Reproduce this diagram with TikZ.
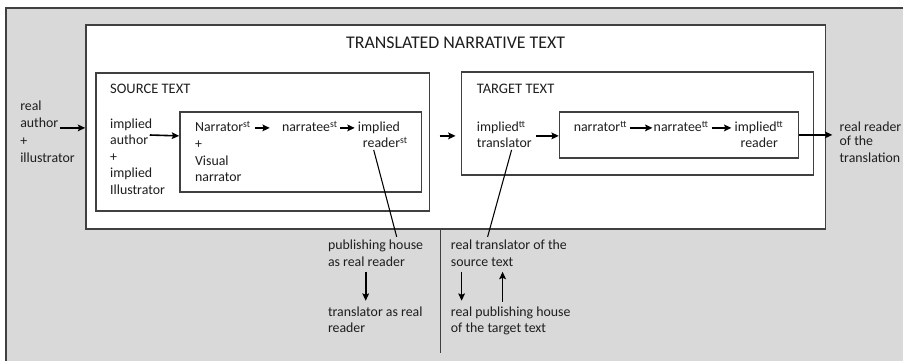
\documentclass[tikz,border=0pt]{standalone}
\usepackage{fontspec}
\setmainfont{Carlito}
\usetikzlibrary{arrows.meta,fit}
\definecolor{panelgray}{HTML}{D9D9D9}
\definecolor{edgegray}{HTML}{404040}
\definecolor{ink}{HTML}{1E1E1E}
\begin{document}
\begin{tikzpicture}[x=0.75pt,y=-0.75pt,
  box/.style={draw=edgegray,line width=1.1pt,inner sep=0pt,fill=white},
  txt/.style={inner sep=0pt,anchor=base west,text=ink,font=\fontsize{10.4pt}{12pt}\selectfont},
  head/.style={txt,font=\fontsize{10.9pt}{13pt}\selectfont},
  title/.style={inner sep=0pt,anchor=base,text=ink,font=\fontsize{13.4pt}{16pt}\selectfont},
  arr/.style={draw=black,line width=1.2pt,-{Stealth[length=5.5pt,width=5pt,inset=1pt]}},
  link/.style={draw=black,line width=0.8pt}]
% canvas and grey panel
\fill[white] (0,0) rectangle (904,361);
\fill[panelgray] (6,8) rectangle (904,361);
\draw[edgegray,line width=1.1pt] (904,8) -- (6,8) -- (6,361);

% boxes
\node[box,fit={(86,25)(826,229)}] (main) {};
\node[box,fit={(96,73)(430,211)}] (src) {};
\node[box,fit={(180,112)(422,192)}] (srcin) {};
\node[box,fit={(462,72)(814,175)}] (tgt) {};
\node[box,fit={(560,112)(799,158)}] (tgtin) {};

% headings
\node[title] (ttl) at (456,49) {TRANSLATED NARRATIVE TEXT};
\node[head] (srch) at (110,94) {SOURCE TEXT};
\node[head] (tgth) at (477,94) {TARGET TEXT};

% real author + illustrator
\node[txt] (ra1) at (20,111) {real};
\node[txt] (ra2) at (20,128) {author};
\node[txt] (ra3) at (20,145.5) {+};
\node[txt] (ra4) at (20,163) {illustrator};

% implied author + implied illustrator
\node[txt] (ia1) at (110,129) {implied};
\node[txt] (ia2) at (110,145) {author};
\node[txt] (ia3) at (110,162) {+};
\node[txt] (ia4) at (110,178) {implied};
\node[txt] (ia5) at (110,195) {Illustrator};

% source narrative chain
\node[txt] (nst) at (195,132) {Narrator\textsuperscript{st}};
\node[txt] (np) at (195,149) {+};
\node[txt] (nv1) at (195,165.5) {Visual};
\node[txt] (nv2) at (195,182) {narrator};
\node[txt] (neest) at (282,132) {narratee\textsuperscript{st}};
\node[txt] (irst1) at (358,132) {implied};
\node[txt] (irst2) at (363,148) {reader\textsuperscript{st}};

% target side
\node[txt] (it1) at (477,132) {implied\textsuperscript{tt}};
\node[txt] (it2) at (477,148) {translator};
\node[txt] (ntt) at (574,132) {narrator\textsuperscript{tt}};
\node[txt] (neett) at (654,132) {narratee\textsuperscript{tt}};
\node[txt] (irtt1) at (735,132) {implied\textsuperscript{tt}};
\node[txt] (irtt2) at (741,148) {reader};

% real reader of the translation
\node[txt] (rr1) at (840,132) {real reader};
\node[txt] (rr2) at (840,146) {of the};
\node[txt] (rr3) at (840,163) {translation};

% lower panel texts
\node[txt] (ph1) at (328,250) {publishing house};
\node[txt] (ph2) at (328,267) {as real reader};
\node[txt] (tr1) at (328,317) {translator as real};
\node[txt] (tr2) at (328,333) {reader};
\node[txt] (rt1) at (451,250) {real translator of the};
\node[txt] (rt2) at (451,267) {source text};
\node[txt] (rp1) at (451,317) {real publishing house};
\node[txt] (rp2) at (451,333) {of the target text};

% helper points
\coordinate (divtop) at (441,229);
\coordinate (divbot) at (441,353);
\coordinate (ph) at (397,237);
\coordinate (rt) at (488,237);

% arrows along the chain
\draw[arr] ([xshift=1pt]ra2.east |- 0,128) -- (main.west |- 0,128);
\draw[arr] ([xshift=1pt]ia2.north east) -- (srcin.west |- 0,136);
\draw[arr] ([xshift=3pt]nst.east |- 0,128) -- (270,128);
\draw[arr] ([xshift=1.5pt]neest.east |- 0,128) -- (355,128);
\draw[arr] ([xshift=7pt]src.east |- 0,136) -- ([xshift=-4pt]tgt.west |- 0,136);
\draw[arr] ([xshift=3pt]it2.east |- 0,136) -- (tgtin.west |- 0,136);
\draw[arr] ([xshift=2pt]ntt.east |- 0,128) -- (653,128);
\draw[arr] ([xshift=2pt]neett.east |- 0,128) -- (732,128);
\draw[arr] (tgtin.east |- 0,135) -- (833,135);

% links to the real-world agents
\draw[link] (374,150) -- (ph);
\draw[link] (512,150) -- (rt);
\draw[edgegray,line width=0.8pt] (divtop) -- (divbot);

% vertical arrows in the lower panel
\draw[arr] (366,272) -- (366,301);
\draw[arr] (462,272) -- (462,301);
\draw[arr] (503,302) -- (503,272);
\end{tikzpicture}
\end{document}
